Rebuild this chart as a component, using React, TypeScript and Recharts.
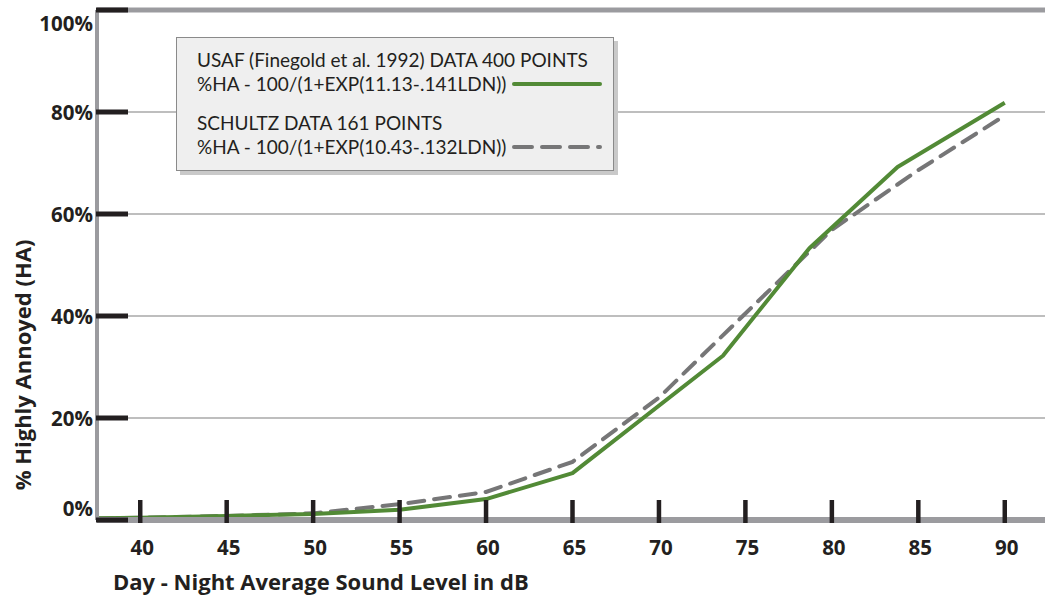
import { LineChart, Line, XAxis, YAxis, CartesianGrid, ReferenceLine } from 'recharts';

// LDN (dB) vs. % highly annoyed
const usafLdn = [37.5, 40, 45, 50, 55, 60, 65, 73.7, 78.7, 83.8, 90];
const usafHa = [0.35, 0.45, 0.8, 1.2, 2.0, 4.1, 9.2, 32.2, 53.3, 69.2, 81.8];
const schultzLdn = [37.5, 40, 45, 50, 55, 60, 65, 70, 75, 80, 85, 90];
const schultzHa = [0.3, 0.45, 0.8, 1.3, 3.1, 5.5, 11.4, 24, 40.5, 56.9, 68.6, 79.3];

const xTicks = [40, 45, 50, 55, 60, 65, 70, 75, 80, 85, 90];
const yTicks = [0, 20, 40, 60, 80, 100];

const legendLines = [
  ['USAF (Finegold et al. 1992) DATA 400 POINTS', '%HA - 100/(1+EXP(11.13-.141LDN))'],
  ['SCHULTZ DATA 161 POINTS', '%HA - 100/(1+EXP(10.43-.132LDN))'],
];

const usaf = usafLdn.map((ldn, i) => ({ ldn, ha: usafHa[i] }));
const schultz = schultzLdn.map((ldn, i) => ({ ldn, ha: schultzHa[i] }));

const GREEN = '#528a36';
const DASH = '#767677';
const AXIS = '#9b9b9f';
const INK = '#231f20';
const FONT = '"Open Sans", sans-serif';
const LEGEND_FONT = 'Lato, sans-serif';
const PLOT_LEFT = 97;
const PLOT_BOTTOM = 520;

const YTick = (props: any) => {
  const { y, payload } = props;
  const v = payload.value;
  const dy = v === 100 ? 13 : v === 0 ? -12 : 0;
  return (
    <g>
      <line x1={PLOT_LEFT - 1} x2={PLOT_LEFT + 31} y1={y} y2={y} stroke={INK} strokeWidth={5} />
      <text x={93} y={y + dy} textAnchor="end" dominantBaseline="central"
        fontFamily={FONT} fontWeight={700} fontSize={20.5} fill={INK}>{v}%</text>
    </g>
  );
};

const XTick = (props: any) => {
  const { x, payload } = props;
  return (
    <g>
      <line x1={x} x2={x} y1={PLOT_BOTTOM - 20} y2={PLOT_BOTTOM + 3} stroke={INK} strokeWidth={4.5} />
      <text x={x + 2} y={547} textAnchor="middle" dominantBaseline="central"
        fontFamily={FONT} fontWeight={700} fontSize={20.5} fill={INK}>{payload.value}</text>
    </g>
  );
};

const LegendBox = () => (
  <div style={{
    position: 'absolute', left: 176, top: 37,
    width: 438, height: 134, boxSizing: 'border-box', background: '#efefef',
    border: '1px solid #8a8a8a', boxShadow: '4px 4px 0 #c9c9c9',
    fontFamily: LEGEND_FONT, fontSize: 19, color: INK, padding: '10px 0 0 20px', lineHeight: '24px',
  }}>
    {legendLines.map((lines, i) => (
      <div key={i} style={{ marginBottom: i === 0 ? 15 : 0 }}>
        <div style={{ whiteSpace: 'nowrap' }}>{lines[0]}</div>
        <div style={{ whiteSpace: 'nowrap', display: 'flex', alignItems: 'center' }}>
          <span>{lines[1]}</span>
          <svg width={92} height={10} style={{ marginLeft: 6 }}>
            <line x1={2} x2={88} y1={5} y2={5} stroke={i === 0 ? GREEN : DASH} strokeWidth={4}
              strokeLinecap="round" strokeDasharray={i === 0 ? undefined : '18 10'} />
          </svg>
        </div>
      </div>
    ))}
  </div>
);

export default function App() {
  return (
    <div style={{ position: 'absolute', left: 0, top: 0, width: 1045, height: 600, overflow: 'hidden', background: '#fff' }}>
      <LineChart width={1048} height={600} margin={{ top: 10, right: 0, bottom: 0, left: 0 }}>
        <CartesianGrid vertical={false} stroke="#a9a9a9" strokeWidth={1.5} />
        <XAxis type="number" dataKey="ldn" domain={[37.5, 92.5]} ticks={xTicks} allowDataOverflow
          height={80} axisLine={{ stroke: AXIS, strokeWidth: 6 }} tickLine={false} tick={<XTick />} />
        <YAxis type="number" domain={[0, 100]} ticks={yTicks} width={PLOT_LEFT}
          axisLine={{ stroke: AXIS, strokeWidth: 4 }} tickLine={false} tick={<YTick />} />
        <ReferenceLine y={100} stroke={AXIS} strokeWidth={5} />
        <Line data={schultz} dataKey="ha" type="linear" stroke={DASH} strokeWidth={4}
          strokeDasharray="16 10" strokeLinecap="round" dot={false} isAnimationActive={false} />
        <Line data={usaf} dataKey="ha" type="linear" stroke={GREEN} strokeWidth={4}
          strokeLinejoin="round" dot={false} isAnimationActive={false} />
      </LineChart>
      <LegendBox />
      <div style={{
        position: 'absolute', left: 22, top: 365, transform: 'translate(-50%, -50%) rotate(-90deg)',
        whiteSpace: 'nowrap', fontFamily: FONT, fontWeight: 700, fontSize: 22, color: INK,
      }}>% Highly Annoyed (HA)</div>
      <div style={{
        position: 'absolute', left: 113, top: 566, whiteSpace: 'nowrap',
        fontFamily: FONT, fontWeight: 700, fontSize: 22, color: INK,
      }}>Day - Night Average Sound Level in dB</div>
    </div>
  );
}
